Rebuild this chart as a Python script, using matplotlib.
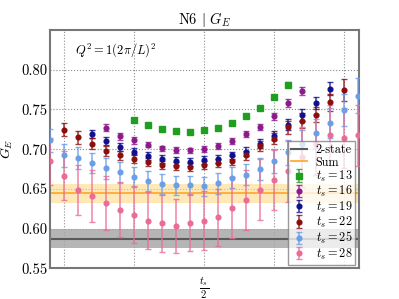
import numpy as np
import matplotlib
matplotlib.use('Agg')
import matplotlib.pyplot as plt

plt.rcParams['font.family'] = 'serif'
plt.rcParams['font.serif'] = ['cmr10', 'DejaVu Serif']
plt.rcParams['mathtext.fontset'] = 'cm'
plt.rcParams['axes.formatter.use_mathtext'] = True

# data (x = tau - t_s/2)
ts_list = [13, 16, 19, 22, 25, 28]
x13 = list(range(-5, 7))
g13 = [0.737, 0.730, 0.7255, 0.7225, 0.722, 0.724, 0.727, 0.733, 0.742, 0.752, 0.766, 0.781]
e13 = [0.002, 0.002, 0.002, 0.002, 0.002, 0.002, 0.002, 0.002, 0.002, 0.0025, 0.0025, 0.003]

x16 = list(range(-7, 8))
g16 = [0.727, 0.716, 0.711, 0.7057, 0.701, 0.699, 0.6985, 0.700, 0.704, 0.710, 0.7187,
       0.728, 0.7414, 0.758, 0.7737]
e16 = [0.0045, 0.004, 0.004, 0.0035, 0.0035, 0.0035, 0.0035, 0.0035, 0.0035, 0.004, 0.004,
       0.004, 0.0045, 0.0045, 0.005]

x19 = list(range(-8, 10))
g19 = [0.719, 0.7105, 0.703, 0.697, 0.691, 0.687, 0.685, 0.684, 0.686, 0.688, 0.692, 0.697,
       0.707, 0.717, 0.731, 0.743, 0.758, 0.776]
e19 = [0.005, 0.005, 0.005, 0.005, 0.005, 0.005, 0.005, 0.005, 0.005, 0.005, 0.005, 0.0055,
       0.006, 0.006, 0.0065, 0.007, 0.0075, 0.008]

x22 = list(range(-10, 11))
g22 = [0.7245, 0.715, 0.707, 0.698, 0.692, 0.688, 0.684, 0.680, 0.679, 0.678, 0.680, 0.6826,
       0.6855, 0.692, 0.704, 0.713, 0.7275, 0.736, 0.7436, 0.759, 0.7746]
e22 = [0.0085, 0.008, 0.007, 0.0065, 0.006, 0.0055, 0.005, 0.005, 0.005, 0.005, 0.005, 0.005,
       0.0055, 0.006, 0.0065, 0.007, 0.008, 0.009, 0.01, 0.011, 0.0135]

x25 = list(range(-11, 12))
g25 = [0.711, 0.692, 0.689, 0.6826, 0.676, 0.6707, 0.6644, 0.660, 0.656, 0.6543, 0.6543,
       0.653, 0.657, 0.664, 0.668, 0.675, 0.685, 0.696, 0.707, 0.720, 0.733, 0.749, 0.767]
e25 = [0.014, 0.015, 0.014, 0.013, 0.013, 0.013, 0.0125, 0.0125, 0.0125, 0.0125, 0.0125,
       0.0125, 0.013, 0.013, 0.0135, 0.014, 0.015, 0.016, 0.017, 0.018, 0.019, 0.02, 0.022]

x28 = list(range(-11, 12))
g28 = [0.6846, 0.6665, 0.6485, 0.6408, 0.6328, 0.624, 0.6173, 0.610, 0.6068, 0.6034, 0.6072,
       0.6097, 0.6144, 0.6263, 0.636, 0.649, 0.661, 0.672, 0.690, 0.706, 0.718, 0.714, 0.7174]
e28 = [0.03, 0.031, 0.032, 0.033, 0.034, 0.035, 0.036, 0.036, 0.036, 0.034, 0.036, 0.037,
       0.036, 0.038, 0.038, 0.038, 0.038, 0.038, 0.038, 0.038, 0.038, 0.038, 0.038]

two_state = 0.5875
two_state_lo, two_state_hi = 0.5752, 0.600
sum_val = 0.6442
sum_lo, sum_hi = 0.632, 0.656

series = [(x13, g13, e13), (x16, g16, e16), (x19, g19, e19),
          (x22, g22, e22), (x25, g25, e25), (x28, g28, e28)]
colors = ['#1f9e1f', '#8b1a8b', '#10108f', '#8b0d0d', '#6a9ee8', '#ea6b96']
markers = ['s', 'o', 'o', 'o', 'o', 'o']

fig = plt.figure(figsize=(3.99, 2.99), dpi=100)
ax = fig.add_axes([0.1253, 0.1027, 0.7744, 0.797])

ax.axhspan(two_state_lo, two_state_hi, color='#a8a8a8', alpha=0.85, lw=0, zorder=1)
l2, = ax.plot([-12, 12], [two_state, two_state], color='#5a5a5a', lw=1.5, zorder=2, label='2-state')
ax.axhspan(sum_lo, sum_hi, color='#ffd98a', alpha=0.6, lw=0, zorder=1)
ls, = ax.plot([-12, 12], [sum_val, sum_val], color='#ffac30', lw=1.3, zorder=2, label='Sum')

handles = [l2, ls]
for ts, (xs, ys, es), c, m in zip(ts_list, series, colors, markers):
    h = ax.errorbar(xs, ys, yerr=es, fmt=m, color=c, ms=3.4 if m == 'o' else 3.8,
                    elinewidth=1.4, capsize=2.4, capthick=1.0, zorder=3,
                    label=r'$t_s = %d$' % ts)
    for art in h[2]:
        art.set_alpha(0.65)
    for art in h[1]:
        art.set_alpha(0.8)
    handles.append(h)

ax.set_xlim(-11, 11.05)
ax.set_ylim(0.55, 0.85)
ax.set_xticks([-10, -5, 0, 5, 10])
ax.set_xticklabels(['', '', r'$\frac{t_s}{2}$', '', ''], fontsize=11)
ax.set_yticks([0.55, 0.60, 0.65, 0.70, 0.75, 0.80])
ax.set_yticklabels(['0.55', '0.60', '0.65', '0.70', '0.75', '0.80'], fontsize=10.5)
ax.tick_params(axis='y', length=0, pad=2)
ax.tick_params(axis='x', length=0, pad=5)
ax.grid(True, ls=':', color='#666666', lw=0.8, alpha=0.75)
ax.set_axisbelow(True)
for sp in ax.spines.values():
    sp.set_color('#777777')
    sp.set_linewidth(1.5)

ax.set_ylabel(r'$G_E$', fontsize=10, labelpad=4)
ax.set_title(r'N6 $|$ $G_E$', fontsize=10.5, pad=4)
ax.text(0.08, 0.90, r'$Q^2 = 1(2\pi/L)^2$', transform=ax.transAxes, fontsize=9)

leg = ax.legend(handles=handles, loc='lower right', fontsize=8.8, framealpha=0.75,
                edgecolor='#777777', fancybox=False, handlelength=1.3,
                handletextpad=0.7, borderpad=0.25, labelspacing=0.02,
                bbox_to_anchor=(1.0, 0.0), borderaxespad=0.3)
leg.get_frame().set_linewidth(1.0)

fig.savefig('out.png', dpi=100)
